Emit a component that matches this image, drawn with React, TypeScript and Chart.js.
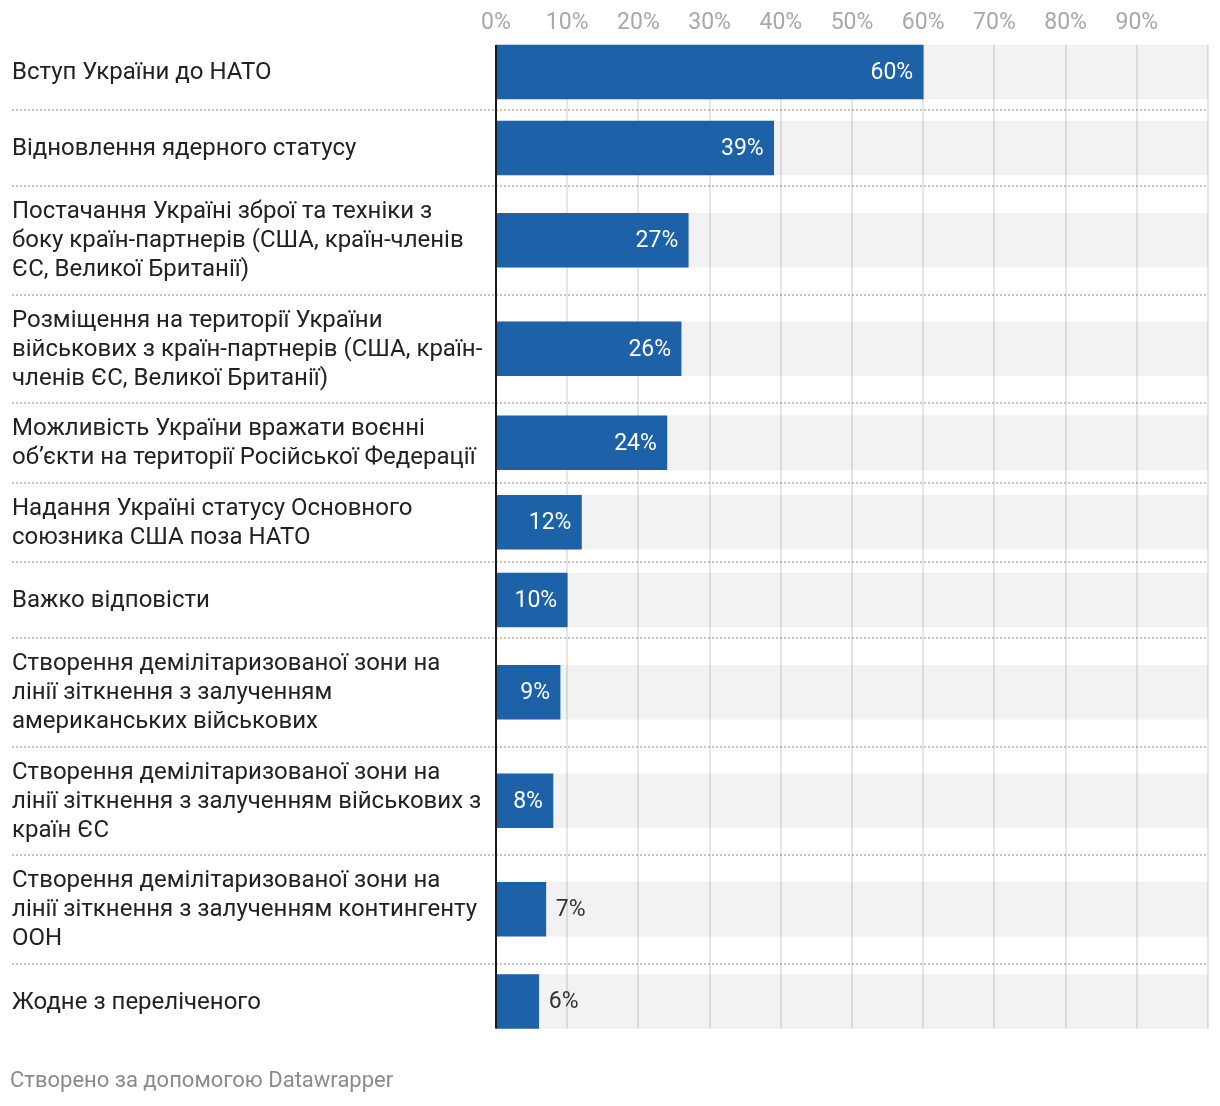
import { useEffect, useRef } from 'react';
import { Chart, registerables } from 'chart.js';

Chart.register(...registerables);

const FONT = 'Roboto, "Noto Sans", sans-serif';

// Category labels, already wrapped into lines as in the reference
const categories: string[][] = [
  ['Вступ України до НАТО'],
  ['Відновлення ядерного статусу'],
  ['Постачання Україні зброї та техніки з', 'боку країн-партнерів (США, країн-членів', 'ЄС, Великої Британії)'],
  ['Розміщення на території України', 'військових з країн-партнерів (США, країн-', 'членів ЄС, Великої Британії)'],
  ['Можливість України вражати воєнні', 'об’єкти на території Російської Федерації'],
  ['Надання Україні статусу Основного', 'союзника США поза НАТО'],
  ['Важко відповісти'],
  ['Створення демілітаризованої зони на', 'лінії зіткнення з залученням', 'американських військових'],
  ['Створення демілітаризованої зони на', 'лінії зіткнення з залученням військових з', 'країн ЄС'],
  ['Створення демілітаризованої зони на', 'лінії зіткнення з залученням контингенту', 'ООН'],
  ['Жодне з переліченого'],
];

const values: number[] = [60, 39, 27, 26, 24, 12, 10, 9, 8, 7, 6];

const xTickValues: number[] = [0, 10, 20, 30, 40, 50, 60, 70, 80, 90];
const gridValues: number[] = [10, 20, 30, 40, 50, 60, 70, 80, 90, 100];
const fullScale = 100;

const footerText = 'Створено за допомогою Datawrapper';

export default function App() {
  const ref = useRef<HTMLCanvasElement>(null);

  useEffect(() => {
    if (!ref.current) return;
    const H = 1106;
    const TOP = 34;
    const BAR = 54;
    const LINE_H = 29;

    const rowH = categories.map((l) => Math.max(76, l.length * LINE_H + 21.5));
    const tops: number[] = [];
    let acc = 0;
    rowH.forEach((h) => {
      tops.push(acc);
      acc += h;
    });
    const total = acc;
    const centers = tops.map((t, i) => t + rowH[i] / 2);

    const customPlugin = {
      id: 'dwCustom',
      beforeDatasetsDraw(chart: any) {
        const { ctx } = chart;
        const ys = chart.scales.y;
        ctx.save();
        ctx.strokeStyle = '#c4c4c4';
        ctx.lineWidth = 2;
        ctx.setLineDash([2, 2]);
        for (let i = 1; i < tops.length; i++) {
          const y = Math.round(ys.getPixelForValue(tops[i]));
          ctx.beginPath();
          ctx.moveTo(12, y);
          ctx.lineTo(chart.chartArea.right, y);
          ctx.stroke();
        }
        ctx.restore();
      },
      beforeDatasetDraw(chart: any, args: any) {
        if (args.index !== 0) return;
        const { ctx } = chart;
        const xs = chart.scales.x;
        const ys = chart.scales.y;
        const top = ys.getPixelForValue(centers[0]) - BAR / 2;
        const bottom = ys.getPixelForValue(centers[centers.length - 1]) + BAR / 2;
        ctx.save();
        ctx.strokeStyle = 'rgba(0,0,0,0.1)';
        ctx.lineWidth = 2;
        gridValues.forEach((v) => {
          const x = Math.round(xs.getPixelForValue(v));
          ctx.beginPath();
          ctx.moveTo(x, top);
          ctx.lineTo(x, bottom);
          ctx.stroke();
        });
        ctx.restore();
      },
      afterDatasetsDraw(chart: any) {
        const { ctx } = chart;
        const xs = chart.scales.x;
        const ys = chart.scales.y;
        ctx.save();
        // category labels
        ctx.font = `24px ${FONT}`;
        ctx.fillStyle = '#222222';
        ctx.textAlign = 'left';
        ctx.textBaseline = 'middle';
        categories.forEach((lines, i) => {
          const c = ys.getPixelForValue(centers[i]);
          const start = c - ((lines.length - 1) * LINE_H) / 2;
          lines.forEach((ln, j) => ctx.fillText(ln, 12, start + j * LINE_H + 1));
        });
        // value labels
        ctx.font = `23px ${FONT}`;
        const meta = chart.getDatasetMeta(0);
        meta.data.forEach((bar: any, i: number) => {
          const txt = `${values[i]}%`;
          const tw = ctx.measureText(txt).width;
          const x0 = xs.getPixelForValue(0);
          const bw = bar.x - x0;
          const y = bar.y + 1;
          if (bw >= tw + 24) {
            ctx.fillStyle = '#ffffff';
            ctx.textAlign = 'right';
            ctx.fillText(txt, bar.x - 10, y);
          } else {
            ctx.fillStyle = '#333333';
            ctx.textAlign = 'left';
            ctx.fillText(txt, bar.x + 10, y);
          }
        });
        // axis line
        const top = ys.getPixelForValue(centers[0]) - BAR / 2;
        const bottom = ys.getPixelForValue(centers[centers.length - 1]) + BAR / 2;
        const ax = xs.getPixelForValue(0);
        ctx.strokeStyle = '#1a1a1a';
        ctx.lineWidth = 2;
        ctx.beginPath();
        ctx.moveTo(ax, top);
        ctx.lineTo(ax, bottom);
        ctx.stroke();
        ctx.restore();
      },
      afterDraw(chart: any) {
        const { ctx } = chart;
        ctx.save();
        ctx.font = `22px ${FONT}`;
        ctx.fillStyle = '#8a8a8a';
        ctx.textAlign = 'left';
        ctx.textBaseline = 'middle';
        ctx.fillText(footerText, 10, 1081);
        ctx.restore();
      },
    };

    const chart = new Chart(ref.current, {
      type: 'bar',
      data: {
        datasets: [
          {
            label: 'values',
            data: values.map((v, i) => ({ x: v, y: centers[i] })),
            backgroundColor: '#1d62a9',
            barThickness: BAR,
            grouped: false,
            order: 0,
          } as any,
          {
            label: 'background',
            data: values.map((_, i) => ({ x: fullScale, y: centers[i] })),
            backgroundColor: '#f2f2f2',
            barThickness: BAR,
            grouped: false,
            order: 1,
          } as any,
        ],
      },
      options: {
        indexAxis: 'y',
        responsive: false,
        animation: false,
        layout: { padding: { left: 496, right: 12, top: 0, bottom: H - TOP - total } },
        scales: {
          x: {
            type: 'linear',
            position: 'top',
            min: 0,
            max: fullScale,
            offset: false,
            grid: { display: false, drawTicks: false },
            border: { display: false },
            afterBuildTicks: (s: any) => {
              s.ticks = xTickValues.map((v) => ({ value: v }));
            },
            afterFit: (s: any) => {
              s.height = TOP;
            },
            ticks: {
              padding: -3,
              color: '#a8a8a8',
              font: { family: FONT, size: 23 },
              maxRotation: 0,
              autoSkip: false,
              callback: (v: any) => `${v}%`,
            },
          },
          y: {
            type: 'linear',
            display: false,
            reverse: true,
            offset: false,
            grace: 0,
            min: 0,
            max: total,
          },
        },
        plugins: {
          legend: { display: false },
          tooltip: { enabled: false },
        },
      } as any,
      plugins: [customPlugin],
    });
    return () => chart.destroy();
  }, []);

  return (
    <div style={{ position: 'absolute', left: 0, top: 0, width: 1220, height: 1106, background: '#fff' }}>
      <canvas ref={ref} width={1220} height={1106} style={{ display: 'block', width: 1220, height: 1106 }} />
    </div>
  );
}
